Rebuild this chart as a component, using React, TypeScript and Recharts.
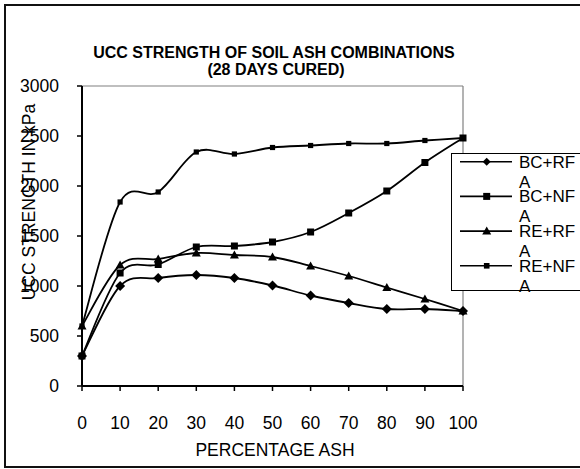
import React from 'react';
import { LineChart, Line, XAxis, YAxis, ReferenceLine, Legend } from 'recharts';

// ---- data ----
const PCT_ASH = [0, 10, 20, 30, 40, 50, 60, 70, 80, 90, 100];
const BC_RFA = [300, 1000, 1080, 1110, 1080, 1005, 905, 830, 770, 770, 750];
const BC_NFA = [300, 1130, 1215, 1390, 1400, 1440, 1540, 1730, 1950, 2235, 2480];
const RE_RFA = [600, 1210, 1270, 1330, 1310, 1290, 1200, 1100, 985, 870, 750];
const RE_NFA = [600, 1840, 1940, 2340, 2320, 2385, 2405, 2425, 2425, 2455, 2480];
const Y_TICKS = [0, 500, 1000, 1500, 2000, 2500, 3000];
const X_TICKS = [0, 10, 20, 30, 40, 50, 60, 70, 80, 90, 100];

const TITLE_1 = 'UCC STRENGTH OF SOIL ASH COMBINATIONS';
const TITLE_2 = '(28 DAYS CURED)';
const X_LABEL = 'PERCENTAGE ASH';
const Y_LABEL = 'UCC STRENGTH IN kPa';

const SERIES = [
  { key: 'bcRfa', name: 'BC+RFA', values: BC_RFA, shape: 'diamond', size: 5, legendSize: 4 },
  { key: 'bcNfa', name: 'BC+NFA', values: BC_NFA, shape: 'square', size: 3.5, legendSize: 3.5 },
  { key: 'reRfa', name: 'RE+RFA', values: RE_RFA, shape: 'triangle', size: 4.5, legendSize: 4.5 },
  { key: 'reNfa', name: 'RE+NFA', values: RE_NFA, shape: 'square', size: 2.6, legendSize: 2.8 },
];

const data = PCT_ASH.map((p, i) => {
  const row: any = { pct: p };
  SERIES.forEach((s) => { row[s.key] = s.values[i]; });
  return row;
});

const FONT = '"Liberation Sans", Arial, sans-serif';

// Excel-like smoothing (Catmull-Rom style bezier through the points)
const excelSmooth = (context: any) => {
  let pts: number[][] = [];
  return {
    areaStart() {},
    areaEnd() {},
    lineStart() { pts = []; },
    point(x: number, y: number) { pts.push([+x, +y]); },
    lineEnd() {
      const n = pts.length;
      if (!n) return;
      context.moveTo(pts[0][0], pts[0][1]);
      for (let i = 0; i < n - 1; i++) {
        const p0 = pts[i - 1] || pts[i];
        const p1 = pts[i];
        const p2 = pts[i + 1];
        const p3 = pts[i + 2] || pts[i + 1];
        const c1x = p1[0] + (p2[0] - p0[0]) / 6;
        const c1y = p1[1] + (p2[1] - p0[1]) / 6;
        const c2x = p2[0] - (p3[0] - p1[0]) / 6;
        const c2y = p2[1] - (p3[1] - p1[1]) / 6;
        context.bezierCurveTo(c1x, c1y, c2x, c2y, p2[0], p2[1]);
      }
    },
  };
};

const Marker = ({ cx, cy, shape, r }: any) => {
  if (cx == null || cy == null) return null;
  if (shape === 'diamond') {
    return <polygon points={`${cx},${cy - r} ${cx + r},${cy} ${cx},${cy + r} ${cx - r},${cy}`} fill="#000" />;
  }
  if (shape === 'triangle') {
    return <polygon points={`${cx},${cy - r} ${cx + r},${cy + r * 0.75} ${cx - r},${cy + r * 0.75}`} fill="#000" />;
  }
  return <rect x={cx - r} y={cy - r} width={2 * r} height={2 * r} fill="#000" />;
};

const renderLegend = (props: any) => {
  const raw = props.payload || [];
  const payload = SERIES.map((s) => raw.find((e: any) => e.value === s.name)).filter(Boolean);
  return (
    <div style={{ position: 'relative', width: 200, height: 138, fontFamily: FONT }}>
      <div style={{ position: 'absolute', left: 0, top: 0, width: 200, height: 138, border: '1px solid #000', boxSizing: 'border-box', background: '#fff' }} />
      <svg style={{ position: 'absolute', left: 0, top: 0 }} width={70} height={138}>
        {payload.map((entry: any, i: number) => {
          const s = SERIES.find((q) => q.name === entry.value) || SERIES[i];
          const y = 8.7 + i * 34.7;
          return (
            <g key={`li-${i}`}>
              <line x1={9} x2={61} y1={y} y2={y} stroke="#000" strokeWidth={1.6} />
              <Marker cx={35.7} cy={y} shape={s.shape} r={s.legendSize} />
            </g>
          );
        })}
      </svg>
      {payload.map((entry: any, i: number) => {
        const y = 8.7 + i * 34.7;
        return (
          <div
            key={`lt-${i}`}
            style={{ position: 'absolute', left: 68, top: y - 9, width: 62, fontSize: 17, lineHeight: '20px', color: '#000', wordBreak: 'break-all' }}
          >
            {entry.value}
          </div>
        );
      })}
    </div>
  );
};

const YLabel = () => (
  <text x={35} y={202} transform="rotate(-90, 35, 202)" textAnchor="middle" fontSize={17.5} fontFamily={FONT} fill="#000">
    {Y_LABEL}
  </text>
);

const XLabel = () => (
  <text x={275} y={456} textAnchor="middle" fontSize={17.5} fontFamily={FONT} fill="#000">
    {X_LABEL}
  </text>
);

export default function App() {
  return (
    <div style={{ position: 'fixed', left: 0, top: 0, width: 580, height: 469, overflow: 'hidden', background: '#fff' }}>
      <div style={{ position: 'absolute', left: 4, top: 4, width: 620, height: 464, border: '2px solid #111', boxSizing: 'border-box' }} />
      <svg style={{ position: 'absolute', left: 0, top: 0 }} width={580} height={90}>
        <text x={274} y={58} textAnchor="middle" fontSize={16} fontWeight="bold" fontFamily={FONT} fill="#000">{TITLE_1}</text>
        <text x={276} y={74.5} textAnchor="middle" fontSize={16} fontWeight="bold" fontFamily={FONT} fill="#000">{TITLE_2}</text>
      </svg>
      <div style={{ position: 'absolute', left: 0, top: 0 }}>
        <LineChart width={580} height={469} data={data} margin={{ top: 86, right: 117, bottom: 0, left: 0 }}>
          <ReferenceLine y={3000} stroke="#808080" strokeWidth={1.2} ifOverflow="extendDomain" />
          <ReferenceLine x={100} stroke="#808080" strokeWidth={1.2} ifOverflow="extendDomain" />
          <XAxis
            dataKey="pct"
            type="number"
            domain={[0, 100]}
            ticks={X_TICKS}
            interval={0}
            height={83}
            tickSize={5}
            tickMargin={26}
            axisLine={{ stroke: '#000', strokeWidth: 2 }}
            tickLine={{ stroke: '#000', strokeWidth: 1.5 }}
            tick={{ fontSize: 17.5, fontFamily: FONT, fill: '#000' }}
            label={<XLabel />}
          />
          <YAxis
            type="number"
            domain={[0, 3000]}
            ticks={Y_TICKS}
            interval={0}
            width={82}
            tickSize={5}
            tickMargin={18}
            axisLine={{ stroke: '#000', strokeWidth: 2 }}
            tickLine={{ stroke: '#000', strokeWidth: 1.5 }}
            tick={{ fontSize: 17.5, fontFamily: FONT, fill: '#000' }}
            label={<YLabel />}
          />
          {SERIES.map((s) => (
            <Line
              key={s.key}
              dataKey={s.key}
              name={s.name}
              type={excelSmooth as any}
              stroke="#000"
              strokeWidth={1.8}
              isAnimationActive={false}
              legendType="line"
              dot={(p: any) => <Marker key={`${s.key}-d-${p.index}`} cx={p.cx} cy={p.cy} shape={s.shape} r={s.size} />}
              activeDot={false}
            />
          ))}
          <Legend
            layout="horizontal"
            verticalAlign="middle"
            align="center"
            content={renderLegend}
            wrapperStyle={{ position: 'absolute', left: 451, top: 153, width: 200, height: 138 }}
          />
        </LineChart>
      </div>
    </div>
  );
}
